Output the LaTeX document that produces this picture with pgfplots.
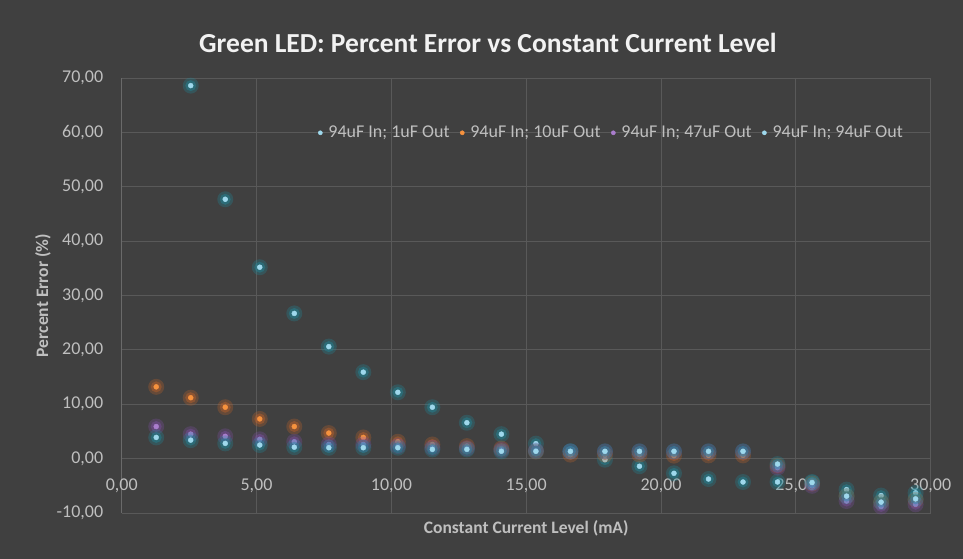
\documentclass[border=0pt]{standalone}
\usepackage{fontspec}
\setmainfont{Carlito}
\usepackage{pgfplots}
\usepackage{pgfplotstable}
\pgfplotsset{compat=1.18}

\definecolor{bg}{HTML}{404040}
\definecolor{gridc}{HTML}{595959}
\definecolor{axisc}{HTML}{6A6A6A}
\definecolor{tickc}{HTML}{BFBFBF}
\definecolor{titlec}{HTML}{F2F2F2}
\definecolor{ltblue}{RGB}{158,216,236}
\definecolor{ltblueglow}{RGB}{30,140,160}
\definecolor{orng}{RGB}{246,146,62}
\definecolor{orngglow}{RGB}{200,100,40}
\definecolor{purp}{RGB}{170,125,205}
\definecolor{purpglow}{RGB}{130,80,170}

% current (mA) vs percent error for the four output capacitors
\pgfplotstableread{
x      a      b      c      d
1.28   nan    13.2   5.9    3.9
2.56   68.6   11.2   4.5    3.4
3.84   47.7   9.45   4.1    2.8
5.12   35.2   7.3    3.55   2.5
6.40   26.7   5.9    3.1    2.1
7.68   20.6   4.7    2.6    2.0
8.96   15.9   3.9    2.6    2.0
10.24  12.2   3.1    2.3    2.0
11.52  9.45   2.6    2.0    1.7
12.80  6.6    2.3    1.9    1.7
14.08  4.5    1.85   1.6    1.35
15.36  2.75   1.3    1.5    1.35
16.64  1.35   0.74   1.3    1.35
17.92  -0.2   0.74   1.3    1.35
19.20  -1.4   0.74   1.3    1.35
20.48  -2.7   0.55   1.3    1.35
21.76  -3.75  0.6    1.3    1.35
23.04  -4.3   0.6    1.3    1.35
24.32  -4.3   -1.3   -1.65  -1.0
25.60  -4.3   -4.6   -5.0   -4.4
26.88  -5.7   -6.9   -7.8   -6.9
28.16  -6.8   -8.0   -8.8   -8.0
29.44  -6.3   -7.6   -8.4   -7.4
}\data

\pgfplotsset{
  glowA/.style={only marks, forget plot, mark=*, mark size=8pt,
    mark options={fill=#1, fill opacity=0.28, draw opacity=0}},
  glowB/.style={only marks, forget plot, mark=*, mark size=5.5pt,
    mark options={fill=#1, fill opacity=0.4, draw opacity=0}},
  dot/.style={only marks, mark=*, mark size=2.5pt,
    mark options={draw=#1, fill=#1}},
}

\begin{document}
\begin{tikzpicture}
\fill[bg] (-121.7pt,-46pt) rectangle (841.3pt,513pt);
\begin{axis}[
    at={(0,0)}, anchor=south west,
    scale only axis,
    width=809pt, height=435pt,
    xmin=0, xmax=30, ymin=-10, ymax=70,
    xtick={0,5,...,30},
    ytick={-10,0,...,70},
    axis x line=middle,
    axis y line=left,
    x axis line style={-, draw=gridc, line width=0.8pt},
    y axis line style={-, draw=axisc, line width=0.8pt},
    hide obscured x ticks=false,
    hide obscured y ticks=false,
    major tick length=0pt,
    grid=major,
    grid style={draw=gridc, line width=0.8pt},
    clip=false,
    /pgf/number format/.cd, fixed, fixed zerofill, precision=2, use comma,
    assume math mode=true,
    /pgfplots/.cd,
    ticklabel style={font=\fontsize{18}{20}\selectfont, text=tickc},
    xticklabel style={yshift=-16.5pt},
    yticklabel style={xshift=-15pt},
    legend style={
        at={(0.6055,0.874)}, anchor=center,
        draw=none, fill=none,
        font=\fontsize{18}{20}\selectfont, text=tickc,
        legend columns=4,
        /tikz/every odd column/.append style={column sep=4pt},
        /tikz/every even column/.append style={column sep=8.5pt},
    },
    legend image code/.code={\draw[#1, mark size=2.1pt] plot coordinates {(0pt,0pt)};},
]

\addplot[glowA=ltblueglow] table[x=x, y=a] {\data};
\addplot[glowB=ltblueglow] table[x=x, y=a] {\data};
\addplot[dot=ltblue] table[x=x, y=a] {\data};
\addlegendentry{94uF In; 1uF Out}

\addplot[glowA=orngglow] table[x=x, y=b] {\data};
\addplot[glowB=orngglow] table[x=x, y=b] {\data};
\addplot[dot=orng] table[x=x, y=b] {\data};
\addlegendentry{94uF In; 10uF Out}

\addplot[glowA=purpglow] table[x=x, y=c] {\data};
\addplot[glowB=purpglow] table[x=x, y=c] {\data};
\addplot[dot=purp] table[x=x, y=c] {\data};
\addlegendentry{94uF In; 47uF Out}

\addplot[glowA=ltblueglow] table[x=x, y=d] {\data};
\addplot[glowB=ltblueglow] table[x=x, y=d] {\data};
\addplot[dot=ltblue] table[x=x, y=d] {\data};
\addlegendentry{94uF In; 94uF Out}

\end{axis}
% title and axis titles
\node[text=titlec, font=\fontsize{27.5}{30}\selectfont\bfseries] at (366.3pt,470pt)
    {Green LED: Percent Error vs Constant Current Level};
\node[text=tickc, font=\fontsize{17.5}{20}\selectfont\bfseries] at (404.5pt,-15.3pt)
    {Constant Current Level (mA)};
\node[text=tickc, font=\fontsize{17.5}{20}\selectfont\bfseries, rotate=90] at (-78.7pt,217.5pt)
    {Percent Error (\%)};
\end{tikzpicture}
\end{document}
